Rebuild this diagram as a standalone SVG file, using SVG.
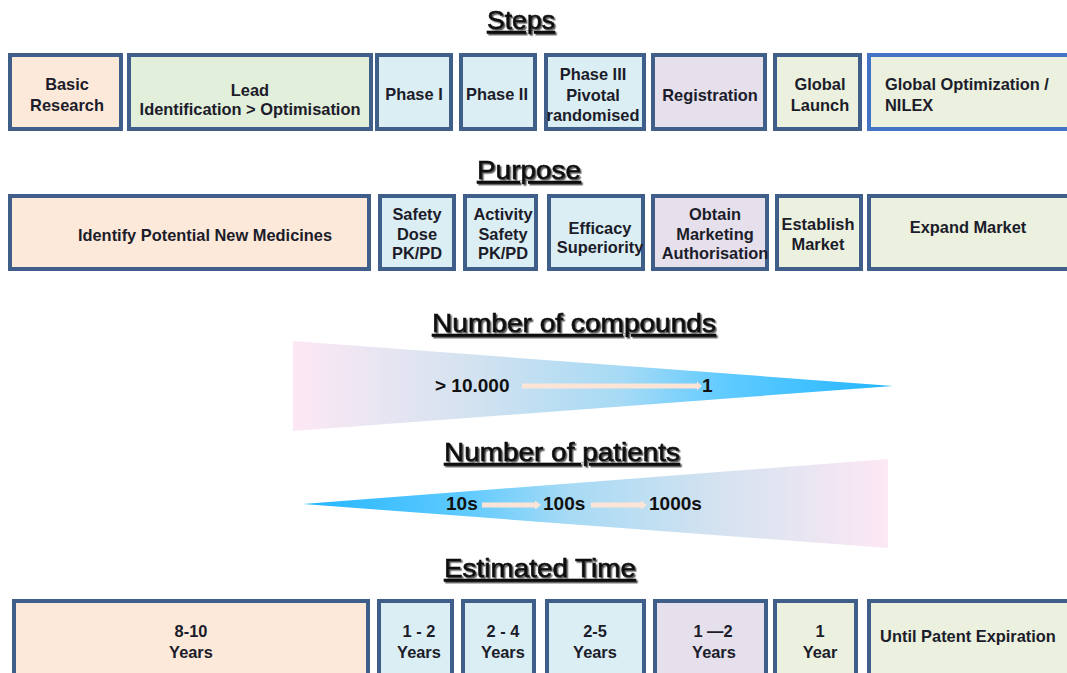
<svg xmlns="http://www.w3.org/2000/svg" width="1067" height="673" viewBox="0 0 1067 673">
<style>
.box{stroke:#3F5F8A;stroke-width:4}
.pe{fill:#FDE9D9}.gr{fill:#E2EFDA}.bl{fill:#DBEEF3}.la{fill:#E5E0EC}.lg{fill:#EBF1DE}
.t{font-family:"Liberation Sans",Arial,sans-serif;font-weight:bold;font-size:16.4px;fill:#1C1C2A;text-anchor:middle}
.tl{text-anchor:start}
.h{font-family:"Liberation Sans",Arial,sans-serif;font-weight:normal;font-size:26px;fill:#111;text-anchor:middle;text-decoration:underline;stroke:#111;stroke-width:0.6;filter:url(#sh)}
.n{font-family:"Liberation Sans",Arial,sans-serif;font-weight:bold;font-size:19px;fill:#111}
.ar{fill:#FCE4D6}
</style>
<defs>
<filter id="sh" x="-5%" y="-20%" width="110%" height="150%">
<feDropShadow dx="1.5" dy="1.5" stdDeviation="0.6" flood-color="#333" flood-opacity="0.8"/>
</filter>
<linearGradient id="gc" x1="293" y1="0" x2="893" y2="0" gradientUnits="userSpaceOnUse">
<stop offset="0" stop-color="#FDE8F4"/>
<stop offset="0.3" stop-color="#D3E2F0"/>
<stop offset="0.55" stop-color="#A6DAF5"/>
<stop offset="0.72" stop-color="#60CBFF"/>
<stop offset="1" stop-color="#22B5FF"/>
</linearGradient>
<linearGradient id="gp" x1="888" y1="0" x2="303" y2="0" gradientUnits="userSpaceOnUse">
<stop offset="0" stop-color="#FDE8F4"/>
<stop offset="0.3" stop-color="#D3E2F0"/>
<stop offset="0.55" stop-color="#A6DAF5"/>
<stop offset="0.72" stop-color="#60CBFF"/>
<stop offset="1" stop-color="#22B5FF"/>
</linearGradient>
</defs>
<rect width="1067" height="673" fill="#fff"/>

<g id="headings">
<text class="h" x="521" y="29" textLength="68" lengthAdjust="spacingAndGlyphs">Steps</text>
<text class="h" x="529" y="179" textLength="104" lengthAdjust="spacingAndGlyphs">Purpose</text>
<text class="h" x="574" y="332" textLength="284" lengthAdjust="spacingAndGlyphs">Number of compounds</text>
<text class="h" x="562" y="461" textLength="236" lengthAdjust="spacingAndGlyphs">Number of patients</text>
<text class="h" x="540" y="577" textLength="192" lengthAdjust="spacingAndGlyphs">Estimated Time</text>
</g>

<g id="steps">
<g id="s-basic"><rect class="box pe" x="10" y="55" width="111" height="74"/><text class="t" x="67" y="90">Basic</text><text class="t" x="67" y="111">Research</text></g>
<g id="s-lead"><rect class="box gr" x="129" y="55" width="242" height="74"/><text class="t" x="250" y="96">Lead</text><text class="t" x="250" y="115">Identification &gt; Optimisation</text></g>
<g id="s-p1"><rect class="box bl" x="377" y="55" width="74" height="74"/><text class="t" x="414" y="100">Phase I</text></g>
<g id="s-p2"><rect class="box bl" x="461" y="55" width="74" height="74"/><text class="t" x="497" y="100">Phase II</text></g>
<g id="s-p3"><rect class="box bl" x="546" y="55" width="98" height="74"/><text class="t" x="593" y="80">Phase III</text><text class="t" x="593" y="101">Pivotal</text><text class="t" x="593" y="121">randomised</text></g>
<g id="s-reg"><rect class="box la" x="653" y="55" width="112" height="74"/><text class="t" x="710" y="101">Registration</text></g>
<g id="s-launch"><rect class="box lg" x="775" y="55" width="85" height="74"/><text class="t" x="820" y="90">Global</text><text class="t" x="820" y="111">Launch</text></g>
<g id="s-opt"><rect class="box lg" x="869" y="55" width="200" height="74" style="stroke:#4472C4"/><text class="t tl" x="885" y="90">Global Optimization /</text><text class="t tl" x="885" y="111">NILEX</text></g>
</g>

<g id="purpose">
<g id="p-identify"><rect class="box pe" x="10" y="196" width="359" height="73"/><text class="t" x="205" y="241">Identify Potential New Medicines</text></g>
<g id="p-safety"><rect class="box bl" x="380" y="196" width="74" height="73"/><text class="t" x="417" y="220">Safety</text><text class="t" x="417" y="240">Dose</text><text class="t" x="417" y="259">PK/PD</text></g>
<g id="p-activity"><rect class="box bl" x="465" y="196" width="71" height="73"/><text class="t" x="503" y="220">Activity</text><text class="t" x="503" y="240">Safety</text><text class="t" x="503" y="259">PK/PD</text></g>
<g id="p-efficacy"><rect class="box bl" x="549" y="196" width="94" height="73"/><text class="t" x="600" y="234">Efficacy</text><text class="t" x="600" y="253">Superiority</text></g>
<g id="p-obtain"><rect class="box la" x="653" y="196" width="114" height="73"/><text class="t" x="715" y="220">Obtain</text><text class="t" x="715" y="240">Marketing</text><text class="t" x="715" y="259">Authorisation</text></g>
<g id="p-establish"><rect class="box lg" x="777" y="196" width="84" height="73"/><text class="t" x="818" y="230">Establish</text><text class="t" x="818" y="250">Market</text></g>
<g id="p-expand"><rect class="box lg" x="869" y="196" width="200" height="73"/><text class="t" x="968" y="233">Expand Market</text></g>
</g>

<g id="compounds">
<polygon points="293,341 893,386 293,431" fill="url(#gc)"/>
<polygon class="ar" points="522,383.5 697,383.5 697,381.5 702,386 697,390.5 697,388.5 522,388.5"/>
<text class="n" x="435" y="392">&gt; 10.000</text>
<text class="n" x="702" y="392">1</text>
</g>

<g id="patients">
<polygon points="303,504 888,459 888,548" fill="url(#gp)"/>
<polygon class="ar" points="482,502.5 535,502.5 535,500.5 541,505 535,509.5 535,507.5 482,507.5"/>
<polygon class="ar" points="591,502.5 641,502.5 641,500.5 647,505 641,509.5 641,507.5 591,507.5"/>
<text class="n" x="446" y="510">10s</text>
<text class="n" x="543" y="510">100s</text>
<text class="n" x="649" y="510">1000s</text>
</g>

<g id="time">
<g id="t-8"><rect class="box pe" x="14" y="601" width="354" height="80"/><text class="t" x="191" y="637">8-10</text><text class="t" x="191" y="658">Years</text></g>
<g id="t-12"><rect class="box bl" x="379" y="601" width="73" height="80"/><text class="t" x="419" y="637">1 - 2</text><text class="t" x="419" y="658">Years</text></g>
<g id="t-24"><rect class="box bl" x="463" y="601" width="71" height="80"/><text class="t" x="503" y="637">2 - 4</text><text class="t" x="503" y="658">Years</text></g>
<g id="t-25"><rect class="box bl" x="547" y="601" width="97" height="80"/><text class="t" x="595" y="637">2-5</text><text class="t" x="595" y="658">Years</text></g>
<g id="t-reg"><rect class="box la" x="655" y="601" width="111" height="80"/><text class="t" x="713" y="637">1 —2</text><text class="t" x="714" y="658">Years</text></g>
<g id="t-1"><rect class="box lg" x="775" y="601" width="81" height="80"/><text class="t" x="820" y="637">1</text><text class="t" x="820" y="658">Year</text></g>
<g id="t-patent"><rect class="box lg" x="869" y="601" width="200" height="80"/><text class="t" x="968" y="642">Until Patent Expiration</text></g>
</g>
</svg>
